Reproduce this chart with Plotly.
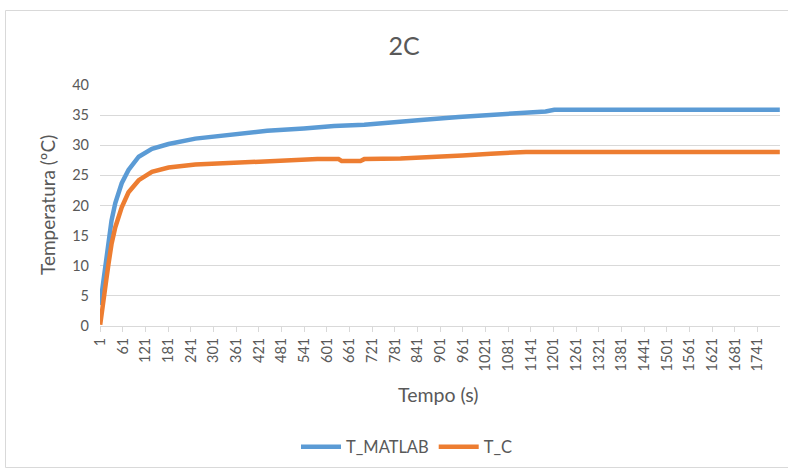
import plotly.graph_objects as go

# Data
t_matlab = [1, 5, 10, 16, 23, 31, 41, 50, 58, 76, 103, 138, 182, 253, 350, 443, 540, 620, 700, 770, 850, 950, 1035, 1120, 1180, 1203, 1800]
v_matlab = [3.5, 5.5, 8.0, 11.2, 14.3, 17.5, 20.4, 22.3, 23.7, 25.9, 28.1, 29.4, 30.2, 31.1, 31.8, 32.4, 32.8, 33.2, 33.4, 33.7, 34.2, 34.7, 35.1, 35.4, 35.6, 35.9, 35.9]

t_c = [1, 5, 12, 17, 23, 31, 41, 50, 58, 76, 103, 138, 182, 253, 350, 443, 576, 632, 640, 690, 700, 796, 876, 960, 1035, 1110, 1128, 1800]
v_c = [0.2, 1.8, 4.9, 7.6, 10.3, 13.6, 16.4, 18.3, 19.7, 22.2, 24.2, 25.6, 26.3, 26.8, 27.1, 27.4, 27.7, 27.7, 27.4, 27.4, 27.7, 27.8, 28.0, 28.3, 28.6, 28.7, 28.9, 28.9]

tick_vals = list(range(1, 1742, 60))
tick_text = [str(v) for v in tick_vals]
y_ticks = [0, 5, 10, 15, 20, 25, 30, 35, 40]

FONT = "Lato"
GREY = "#595959"
GRID = "#D9D9D9"

fig = go.Figure()
fig.add_trace(go.Scatter(x=t_matlab, y=v_matlab, mode="lines", name="T_MATLAB",
                         line=dict(color="#5B9BD5", width=4.5)))
fig.add_trace(go.Scatter(x=t_c, y=v_c, mode="lines", name="T_C",
                         line=dict(color="#ED7D31", width=4.5)))

L, R, T, B = 100, 8, 85, 144
W, H = 788, 470
pw, ph = W - L - R, H - T - B

def px(x):
    return (x - L) / pw

def py(y):
    return (H - B - y) / ph

fig.update_layout(
    width=W, height=H,
    margin=dict(l=L, r=R, t=T, b=B, autoexpand=False),
    paper_bgcolor="white", plot_bgcolor="white",
    font=dict(family=FONT, color=GREY, size=14.5),
    title=dict(text="2C", x=px(404), xref="paper", xanchor="center",
               y=1 - 46 / H, yanchor="middle",
               font=dict(size=25, color=GREY, family=FONT)),
    showlegend=True,
    legend=dict(orientation="h", x=px(407), xanchor="center", y=py(447), yanchor="middle",
                font=dict(size=16.5, color=GREY, family=FONT), itemwidth=40),
    xaxis=dict(range=[0.5, 1800.5], tickmode="array", tickvals=tick_vals, ticktext=tick_text,
               tickangle=-90, showgrid=False, showline=True, linecolor=GRID, linewidth=1,
               ticks="outside", ticklen=5, tickcolor=GRID, zeroline=False,
               tickfont=dict(size=14.5, color=GREY, family=FONT)),
    yaxis=dict(range=[0, 40], tickvals=y_ticks, showgrid=True, gridcolor=GRID, gridwidth=1,
               zeroline=False, showline=False, ticks="", ticklen=0, ticklabelstandoff=10,
               tickfont=dict(size=14.5, color=GREY, family=FONT)),
    annotations=[
        dict(text="Tempo (s)", x=px(438), y=py(395), xref="paper", yref="paper",
             showarrow=False, xanchor="center", yanchor="middle",
             font=dict(size=19.5, color=GREY, family=FONT)),
        dict(text="Temperatura (ºC)", x=px(47), y=py(205), xref="paper", yref="paper",
             showarrow=False, xanchor="center", yanchor="middle", textangle=-90,
             font=dict(size=19, color=GREY, family=FONT)),
    ],
    shapes=[
        dict(type="rect", xref="paper", yref="paper", x0=px(5.5), x1=px(800), y0=py(467.5), y1=py(10.5),
             line=dict(color=GRID, width=1), fillcolor="rgba(0,0,0,0)", layer="below"),
    ],
)

fig.write_html("out.html")
